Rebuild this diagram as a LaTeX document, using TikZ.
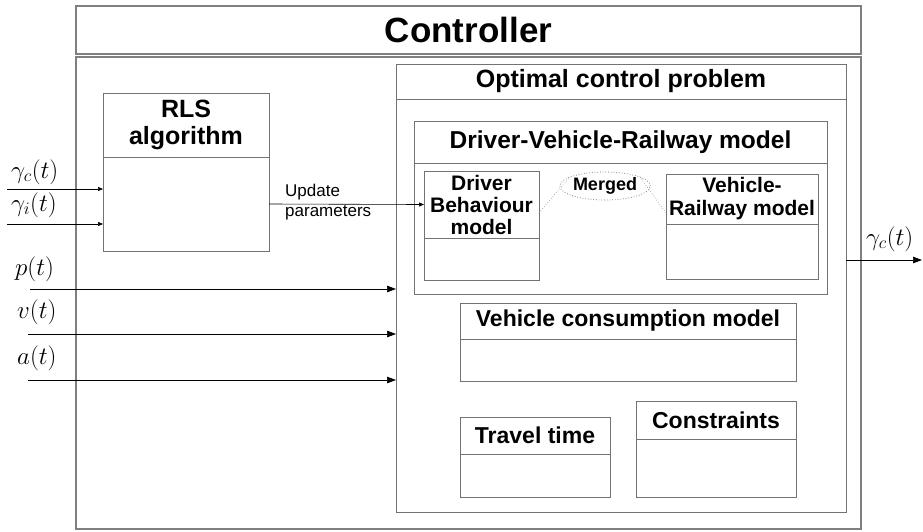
\RequirePackage{fix-cm}
\documentclass[tikz,border=0pt]{standalone}
\usepackage{fontspec}
\setmainfont{Liberation Sans}
\usetikzlibrary{arrows.meta,shapes.geometric,positioning}
\tikzset{
  box/.style={draw=black!55,line width=0.8pt,inner sep=0pt,outer sep=0pt},
  hd/.style={box,align=center,font=\bfseries\fontsize{23}{25}\selectfont},
  big/.style={box,draw=black!50,line width=1.3pt},
  lbl/.style={inner sep=0pt,anchor=base west,font=\fontsize{25}{27}\selectfont},
  arr/.style={-{Triangle[length=9pt,width=6.5pt]},line width=0.7pt},
  sarr/.style={-{Triangle[length=5pt,width=4pt]},line width=0.6pt},
}
\begin{document}
\begin{tikzpicture}[x=1pt,y=-1pt]
  \useasboundingbox (0,0) rectangle (923,531);
  % Controller
  \node[big,anchor=north west,minimum width=785pt,minimum height=48pt,font=\bfseries\fontsize{35}{38}\selectfont](ctrlH) at (76,6) {Controller};
  \node[big,anchor=north west,minimum width=785pt,minimum height=472pt](ctrl) at (76,57) {};
  % RLS
  \node[hd,anchor=north west,minimum width=166pt,minimum height=64pt,font=\bfseries\fontsize{25}{27}\selectfont](rlsH) at (103,93) {RLS\\algorithm};
  \node[box,below=0pt of rlsH,minimum width=166pt,minimum height=94pt](rls) {};
  % optimal control problem
  \node[hd,anchor=north west,minimum width=450pt,minimum height=35pt,font=\bfseries\fontsize{25}{27}\selectfont](ocpH) at (396,64) {Optimal control problem};
  \node[box,below=0pt of ocpH,minimum width=450pt,minimum height=413pt](ocp) {};
  % driver-vehicle-railway
  \node[hd,anchor=north west,minimum width=413pt,minimum height=42pt,font=\bfseries\fontsize{24.5}{26}\selectfont](dvrH) at (414,121) {Driver-Vehicle-Railway model};
  \node[box,below=0pt of dvrH,minimum width=413pt,minimum height=131pt](dvr) {};
  \node[hd,anchor=north west,minimum width=115pt,minimum height=67pt,font=\bfseries\fontsize{21}{22}\selectfont](dbH) at (424,171) {Driver\\Behaviour\\model};
  \node[box,below=0pt of dbH,minimum width=115pt,minimum height=42pt](db) {};
  \node[hd,anchor=north west,minimum width=152pt,minimum height=50pt,font=\bfseries\fontsize{21}{23}\selectfont](vrH) at (666,174) {Vehicle-\\Railway model};
  \node[box,below=0pt of vrH,minimum width=152pt,minimum height=55pt](vr) {};
  \node[ellipse,draw=black!60,dotted,line width=0.7pt,inner sep=0pt,minimum width=78pt,minimum height=28pt,font=\bfseries\fontsize{18}{20}\selectfont](mrg) at (605,186) {Merged};
  \draw[black!50,dotted,line width=0.6pt]([yshift=-8pt]dbH.east)--(mrg.165);
  \draw[black!50,dotted,line width=0.6pt](mrg.15)--([yshift=-14pt]vrH.west);
  % consumption, travel time, constraints
  \node[hd,anchor=north west,minimum width=336pt,minimum height=36pt](vcH) at (460,303) {Vehicle consumption model};
  \node[box,below=0pt of vcH,minimum width=336pt,minimum height=42pt](vc) {};
  \node[hd,anchor=north west,minimum width=150pt,minimum height=37pt](ttH) at (460,417) {Travel time};
  \node[box,below=0pt of ttH,minimum width=150pt,minimum height=43pt](tt) {};
  \node[hd,anchor=north west,minimum width=160pt,minimum height=38pt](coH) at (636,401) {Constraints};
  \node[box,below=0pt of coH,minimum width=160pt,minimum height=58pt](co) {};
  % inputs
  \coordinate(gcS) at (7,189);
  \coordinate(giS) at (7,224);
  \coordinate(pS) at (30,289);
  \coordinate(vS) at (28,334);
  \coordinate(aS) at (28,380);
  \node[lbl](gcL) at (11,178) {$\gamma_c(t)$};
  \node[lbl](giL) at (11,211) {$\gamma_i(t)$};
  \node[lbl](pL) at (15,275) {$p(t)$};
  \node[lbl](vL) at (17,318) {$v(t)$};
  \node[lbl](aL) at (17,364) {$a(t)$};
  \draw[sarr](gcS)--(gcS-|rls.west);
  \draw[sarr](giS)--(giS-|rls.west);
  \draw[arr](pS)--(pS-|ocp.west);
  \draw[arr](vS)--(vS-|ocp.west);
  \draw[arr](aS)--(aS-|ocp.west);
  % update parameters
  \draw[sarr](rls.east)--(dbH.west);
  \node[inner sep=0pt,anchor=west,align=left,font=\fontsize{17}{20}\selectfont](upd) at (285,202) {Update\\parameters};
  % output
  \coordinate(outE) at (922,260);
  \node[lbl](outL) at (866,245) {$\gamma_c(t)$};
  \draw[arr](outE-|ocp.east)--(outE);
\end{tikzpicture}
\end{document}
